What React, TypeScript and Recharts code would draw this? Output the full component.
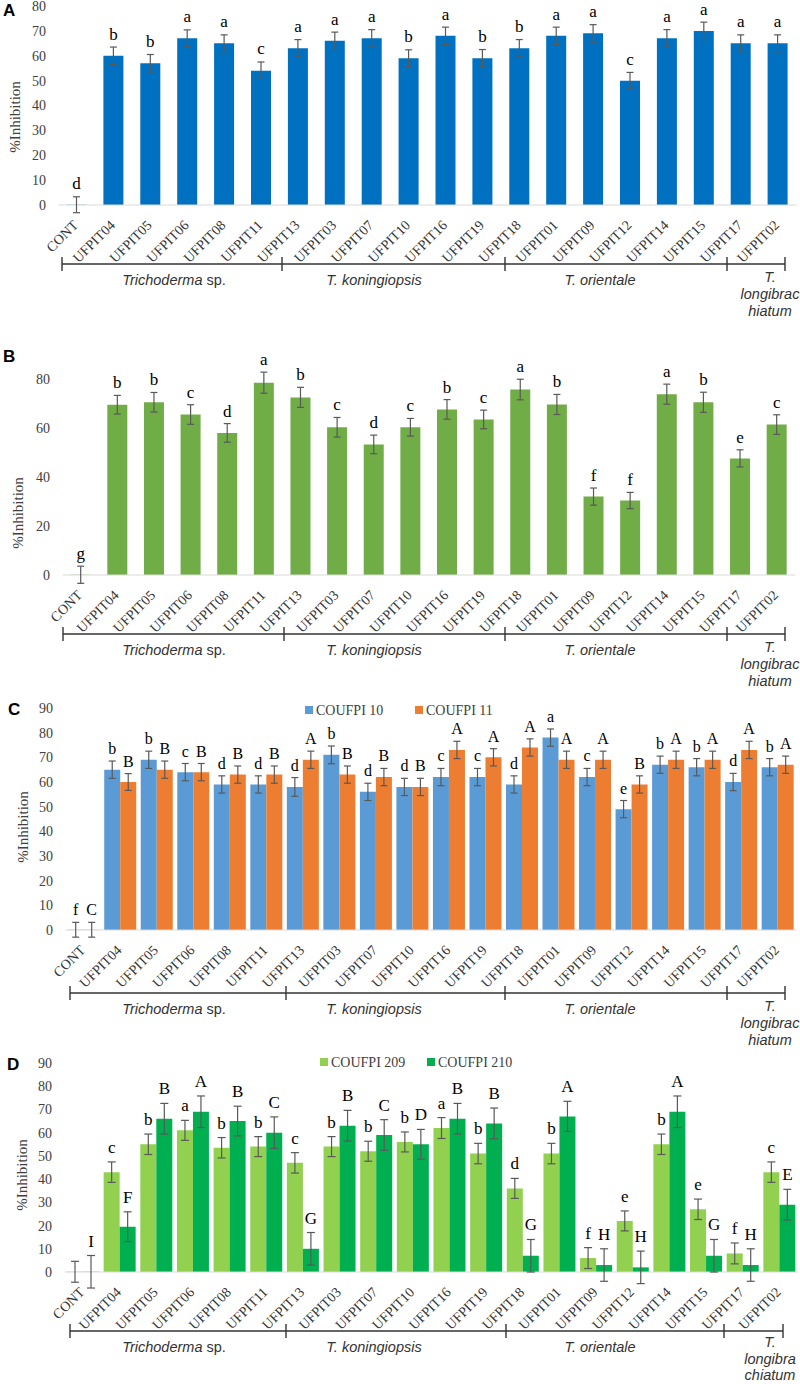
import React from 'react';
import { BarChart, Bar, XAxis, YAxis, ErrorBar, LabelList, ReferenceLine } from 'recharts';

const serif = '"Liberation Serif", "Times New Roman", serif';
const sans = '"Liberation Sans", Arial, sans-serif';

const isolates = ['CONT', 'UFPIT04', 'UFPIT05', 'UFPIT06', 'UFPIT08', 'UFPIT11', 'UFPIT13', 'UFPIT03', 'UFPIT07', 'UFPIT10',
  'UFPIT16', 'UFPIT19', 'UFPIT18', 'UFPIT01', 'UFPIT09', 'UFPIT12', 'UFPIT14', 'UFPIT15', 'UFPIT17', 'UFPIT02'];

// panel A (CONT read as ~0)
const inhibA = [0.1, 60, 57, 67, 65, 54, 63, 66, 67, 59, 68, 59, 63, 68, 69, 50, 67, 70, 65, 65];
const errA = [3.2, 3.5, 3.5, 3.4, 3.4, 3.5, 3.5, 3.5, 3.5, 3.4, 3.5, 3.5, 3.5, 3.5, 3.5, 3.3, 3.5, 3.5, 3.4, 3.4];
const lettersA = ['d', 'b', 'b', 'a', 'a', 'c', 'a', 'a', 'a', 'b', 'a', 'b', 'b', 'a', 'a', 'c', 'a', 'a', 'a', 'a'];

// panel B
const inhibB = [0.1, 69.5, 70.5, 65.5, 58, 78.5, 72.5, 60.3, 53.3, 60.3, 67.6, 63.5, 75.7, 69.6, 32, 30.4, 73.8, 70.5, 47.6, 61.4];
const errB = [3.5, 3.8, 4, 4, 3.8, 4.3, 4.1, 4, 3.8, 3.6, 4, 3.8, 4.2, 4.1, 3.5, 3.3, 4.1, 4.1, 3.5, 4];
const lettersB = ['g', 'b', 'b', 'c', 'd', 'a', 'b', 'c', 'd', 'c', 'b', 'c', 'a', 'b', 'f', 'f', 'a', 'b', 'e', 'c'];

// panel C
const coufpi10 = [0.1, 65, 69, 64, 59, 59, 58, 71, 56, 58, 62, 62, 59, 78, 62, 49, 67, 66, 60, 66];
const err10 = [3, 3.5, 3.5, 3.5, 3.5, 3.5, 3.8, 3.6, 3.5, 3.5, 3.5, 3.5, 3.5, 3.5, 3.5, 3.5, 3.5, 3.5, 3.5, 3.5];
const letters10 = ['f', 'b', 'b', 'c', 'd', 'd', 'd', 'b', 'd', 'd', 'c', 'c', 'd', 'a', 'c', 'e', 'b', 'b', 'd', 'b'];
const coufpi11 = [0.1, 60, 65, 64, 63, 63, 69, 63, 62, 58, 73, 70, 74, 69, 69, 59, 69, 69, 73, 67];
const err11 = [3, 3.4, 3.5, 3.5, 3.5, 3.5, 3.5, 3.5, 3.5, 3.5, 3.5, 3.5, 3.5, 3.5, 3.5, 3.5, 3.5, 3.5, 3.5, 3.5];
const letters11 = ['C', 'B', 'B', 'B', 'B', 'B', 'A', 'B', 'B', 'B', 'A', 'A', 'A', 'A', 'A', 'B', 'A', 'A', 'A', 'A'];

// panel D
const coufpi209 = [0.1, 43, 55, 61, 53.5, 54, 47, 54, 52, 56, 62, 51, 36, 51, 6, 22, 55, 27, 8, 43];
const err209 = [4.5, 4.4, 4.4, 4.3, 4.4, 4.3, 4.4, 4.3, 4.3, 4.3, 4.5, 4.4, 4.3, 4.4, 4.5, 4.3, 4.4, 4.4, 4.5, 4.4];
const letters209 = ['', 'c', 'b', 'a', 'b', 'b', 'c', 'b', 'b', 'b', 'a', 'b', 'd', 'b', 'f', 'e', 'b', 'e', 'f', 'c'];
const coufpi210 = [0.1, 19.5, 66, 69, 65, 60, 10, 63, 59, 55, 66, 64, 7, 67, 3, 2, 69, 7, 3, 29];
const err210 = [7, 6.4, 6.6, 6.8, 6.4, 6.8, 7, 6.6, 6.6, 6.4, 6.6, 6.6, 7, 6.5, 7, 7, 6.8, 7, 7, 6.6];
const letters210 = ['I', 'F', 'B', 'A', 'B', 'C', 'G', 'B', 'C', 'D', 'B', 'B', 'G', 'A', 'H', 'H', 'A', 'G', 'H', 'E'];

interface Series {
  key: string;
  name: string;
  color: string;
  values: number[];
  errors: number[];
  letters: string[];
}

interface PanelDef {
  tag: string;
  tagX: number;
  tagY: number;
  topY: number;
  zeroY: number;
  maxVal: number;
  ticks: number[];
  left: number;
  right: number;
  tickMargin: number;
  barSize: number;
  capWidth: number;
  letterGap: number;
  letterSize: number;
  yLabel: [number, number];
  bracketY: number;
  bracketXs: number[];
  lastLines: string[];
  lastLineY: number[];
  legendY?: number;
  legendXs?: number[];
  series: Series[];
}

const groupCenters = [174, 374, 600, 770];

// letter drawn above the error bar; value carries "letter|error"
const letterContent = (ppu: number, gap: number, size: number) => (props: any) => {
  const vb = props.viewBox || {};
  const x = props.x ?? vb.x;
  const y = props.y ?? vb.y;
  const w = props.width ?? vb.width;
  const h = props.height ?? vb.height;
  const [letter, err] = String(props.value ?? '').split('|');
  if (!letter) return null;
  const top = Math.min(y, y + h);
  return (
    <text x={x + w / 2} y={top - Number(err) * ppu - gap} textAnchor="middle" fontFamily={serif} fontSize={size} fill="#000">
      {letter}
    </text>
  );
};

function Panel({ p }: { p: PanelDef }) {
  const ppu = (p.zeroY - p.topY) / p.maxVal;
  const low = Math.min(0, ...p.series.flatMap(s => s.values.map((v, i) => v - s.errors[i])));
  const high = Math.max(p.maxVal, ...p.series.flatMap(s => s.values.map((v, i) => v + s.errors[i])));
  const plotTop = p.zeroY - high * ppu;
  const plotBottom = p.zeroY - low * ppu;
  const chartTop = p.topY - 40;
  const chartH = p.zeroY + 75 - chartTop;
  const zeroLocal = p.zeroY - chartTop;

  const data = isolates.map((name, i) => {
    const row: Record<string, any> = { name };
    p.series.forEach(s => {
      row[s.key] = s.values[i];
      row[s.key + 'Err'] = s.errors[i];
      row[s.key + 'Lbl'] = `${s.letters[i]}|${s.errors[i]}`;
    });
    return row;
  });

  const renderTick = (props: any) => {
    const ax = props.x + 2;
    const ay = zeroLocal + 21;
    return (
      <text x={ax} y={ay} transform={`rotate(-45 ${ax} ${ay})`} textAnchor="end" fontFamily={serif} fontSize={14} fill="#333">
        {props.payload.value}
      </text>
    );
  };

  const xs = p.bracketXs;
  const by = p.bracketY;

  return (
    <>
      <div style={{ position: 'absolute', left: 0, top: chartTop }}>
        <BarChart
          width={800}
          height={chartH}
          data={data}
          barGap={0}
          margin={{ top: plotTop - chartTop, right: 800 - p.right, left: 0, bottom: 0 }}
        >
          <XAxis
            dataKey="name"
            interval={0}
            axisLine={false}
            tickLine={false}
            height={chartH - (plotBottom - chartTop)}
            tick={renderTick}
          />
          <YAxis
            type="number"
            domain={[low, high]}
            ticks={p.ticks}
            interval={0}
            width={p.left}
            axisLine={false}
            tickLine={false}
            tickSize={0}
            tickMargin={p.tickMargin}
            tick={{ fill: '#404040', fontSize: 14, fontFamily: serif }}
          />
          <ReferenceLine y={0} stroke="#d9d9d9" strokeWidth={1} />
          {p.series.map(s => (
            <Bar key={s.key} dataKey={s.key} name={s.name} fill={s.color} barSize={p.barSize} isAnimationActive={false}>
              <ErrorBar dataKey={s.key + 'Err'} width={p.capWidth} stroke="#595959" strokeWidth={1.2} direction="y" />
              <LabelList dataKey={s.key + 'Lbl'} content={letterContent(ppu, p.letterGap, p.letterSize)} />
            </Bar>
          ))}
        </BarChart>
      </div>

      <div style={{ position: 'absolute', left: p.tagX, top: p.tagY - 14, fontFamily: sans, fontWeight: 'bold', fontSize: 17, lineHeight: '17px' }}>
        {p.tag}
      </div>

      <svg style={{ position: 'absolute', left: 0, top: 0, overflow: 'visible' }} width={800} height={1}>
        <text
          x={p.yLabel[0]}
          y={p.yLabel[1]}
          transform={`rotate(-90 ${p.yLabel[0]} ${p.yLabel[1]})`}
          textAnchor="middle"
          dominantBaseline="central"
          fontFamily={serif}
          fontSize={15}
          fill="#404040"
        >
          %Inhibition
        </text>

        <line x1={xs[0]} x2={xs[xs.length - 1]} y1={by} y2={by} stroke="#333" strokeWidth={1.4} />
        {xs.map(x => (
          <line key={x} x1={x} x2={x} y1={by - 7} y2={by + 7} stroke="#333" strokeWidth={1.4} />
        ))}
        <g fontFamily={sans} fontSize={14.5} fontStyle="italic" fill="#333" textAnchor="middle">
          <text x={groupCenters[0]} y={by + 21}>
            Trichoderma<tspan fontStyle="normal"> sp.</tspan>
          </text>
          <text x={groupCenters[1]} y={by + 21}>T. koningiopsis</text>
          <text x={groupCenters[2]} y={by + 21}>T. orientale</text>
          <text x={groupCenters[3]} y={by + p.lastLineY[0]}>T.</text>
          <text x={groupCenters[3]} y={by + p.lastLineY[1]}>{p.lastLines[0]}</text>
          <text x={groupCenters[3]} y={by + p.lastLineY[2]}>{p.lastLines[1]}</text>
        </g>

        {p.legendY != null && p.legendXs && p.series.map((s, k) => (
          <g key={s.key}>
            <rect x={p.legendXs![k]} y={p.legendY! - 4} width={8} height={8} fill={s.color} />
            <text x={p.legendXs![k] + 11} y={p.legendY! + 5} fontFamily={serif} fontSize={14} fill="#404040">
              {s.name}
            </text>
          </g>
        ))}
      </svg>
    </>
  );
}

const panels: PanelDef[] = [
  {
    tag: 'A', tagX: 3, tagY: 16, topY: 6, zeroY: 205, maxVal: 80,
    ticks: [0, 10, 20, 30, 40, 50, 60, 70, 80],
    left: 58.5, right: 796.5, tickMargin: 12.5, barSize: 20, capWidth: 3.5,
    letterGap: 7.5, letterSize: 17, yLabel: [15, 117],
    bracketY: 264, bracketXs: [62, 282, 505, 727, 785], lastLines: ['longibrac', 'hiatum'], lastLineY: [18, 35, 52],
    series: [{ key: 'a', name: 'A', color: '#0070c0', values: inhibA, errors: errA, letters: lettersA }],
  },
  {
    tag: 'B', tagX: 3, tagY: 362, topY: 379, zeroY: 575, maxVal: 80,
    ticks: [0, 20, 40, 60, 80],
    left: 62.7, right: 795.3, tickMargin: 12.7, barSize: 20, capWidth: 3.5,
    letterGap: 7, letterSize: 17, yLabel: [18, 513],
    bracketY: 634, bracketXs: [63, 284, 505, 727, 785], lastLines: ['longibrac', 'hiatum'], lastLineY: [18, 35, 52],
    series: [{ key: 'b', name: 'B', color: '#70ad47', values: inhibB, errors: errB, letters: lettersB }],
  },
  {
    tag: 'C', tagX: 8, tagY: 715, topY: 708, zeroY: 930, maxVal: 90,
    ticks: [0, 10, 20, 30, 40, 50, 60, 70, 80, 90],
    left: 65.7, right: 796.2, tickMargin: 12.7, barSize: 16, capWidth: 3.5,
    letterGap: 7, letterSize: 16, yLabel: [23, 827],
    bracketY: 993, bracketXs: [70, 286, 505, 727, 785], lastLines: ['longibrac', 'hiatum'], lastLineY: [18, 35, 52],
    legendY: 710, legendXs: [305, 415],
    series: [
      { key: 'c10', name: 'COUFPI 10', color: '#5b9bd5', values: coufpi10, errors: err10, letters: letters10 },
      { key: 'c11', name: 'COUFPI 11', color: '#ed7d31', values: coufpi11, errors: err11, letters: letters11 },
    ],
  },
  {
    tag: 'D', tagX: 7, tagY: 1070, topY: 1063, zeroY: 1272, maxVal: 90,
    ticks: [0, 10, 20, 30, 40, 50, 60, 70, 80, 90],
    left: 65, right: 798, tickMargin: 13, barSize: 16, capWidth: 4,
    letterGap: 9, letterSize: 17, yLabel: [22, 1175],
    bracketY: 1331, bracketXs: [70, 286, 506, 724, 783], lastLines: ['longibra', 'chiatum'], lastLineY: [16, 33, 49],
    legendY: 1062, legendXs: [320, 427],
    series: [
      { key: 'd209', name: 'COUFPI 209', color: '#92d050', values: coufpi209, errors: err209, letters: letters209 },
      { key: 'd210', name: 'COUFPI 210', color: '#00b050', values: coufpi210, errors: err210, letters: letters210 },
    ],
  },
];

export default function App() {
  return (
    <div style={{ position: 'absolute', left: 0, top: 0, width: 800, height: 1384, background: '#fff', overflow: 'hidden' }}>
      {panels.map(p => (
        <Panel key={p.tag} p={p} />
      ))}
    </div>
  );
}
